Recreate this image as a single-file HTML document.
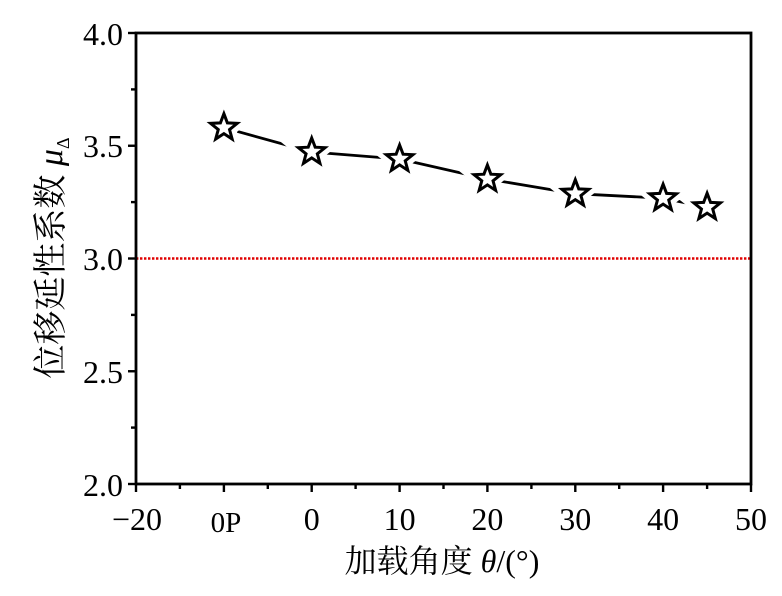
<!DOCTYPE html>
<html><head><meta charset="utf-8"><style>
html,body{margin:0;padding:0;background:#fff;}
svg text{font-family:"Liberation Serif","Noto Serif CJK SC",serif;fill:#000;}
</style></head><body>
<svg width="782" height="591" viewBox="0 0 782 591" xmlns="http://www.w3.org/2000/svg">
<defs>
<polygon id="st" points="0,-14 3.48,-4.79 13.31,-4.33 5.63,1.83 8.23,11.33 0,5.92 -8.23,11.33 -5.63,1.83 -13.31,-4.33 -3.48,-4.79"/>
</defs>
<line x1="136" y1="258.5" x2="751" y2="258.5" stroke="#e00000" stroke-width="2.4" stroke-dasharray="2.4,1.6"/>
<rect x="136" y="33" width="615" height="451" fill="none" stroke="#000" stroke-width="2.8"/>
<g stroke="#000" stroke-width="2.4">
<line x1="128" y1="33" x2="136" y2="33"/><line x1="128" y1="145.75" x2="136" y2="145.75"/><line x1="128" y1="258.5" x2="136" y2="258.5"/><line x1="128" y1="371.25" x2="136" y2="371.25"/><line x1="128" y1="484" x2="136" y2="484"/>
<line x1="131" y1="89.4" x2="136" y2="89.4"/><line x1="131" y1="202.1" x2="136" y2="202.1"/><line x1="131" y1="314.9" x2="136" y2="314.9"/><line x1="131" y1="427.6" x2="136" y2="427.6"/>
<line x1="136" y1="484" x2="136" y2="492"/><line x1="223.9" y1="484" x2="223.9" y2="492"/><line x1="311.7" y1="484" x2="311.7" y2="492"/><line x1="399.6" y1="484" x2="399.6" y2="492"/><line x1="487.4" y1="484" x2="487.4" y2="492"/><line x1="575.3" y1="484" x2="575.3" y2="492"/><line x1="663.1" y1="484" x2="663.1" y2="492"/><line x1="751" y1="484" x2="751" y2="492"/>
<line x1="179.9" y1="484" x2="179.9" y2="489"/><line x1="267.8" y1="484" x2="267.8" y2="489"/><line x1="355.6" y1="484" x2="355.6" y2="489"/><line x1="443.5" y1="484" x2="443.5" y2="489"/><line x1="531.4" y1="484" x2="531.4" y2="489"/><line x1="619.2" y1="484" x2="619.2" y2="489"/><line x1="707.1" y1="484" x2="707.1" y2="489"/>
</g>
<g font-size="32" text-anchor="end">
<text x="123" y="45">4.0</text><text x="123" y="157">3.5</text><text x="123" y="270">3.0</text><text x="123" y="383">2.5</text><text x="123" y="496">2.0</text>
</g>
<g font-size="32" text-anchor="middle">
<text x="137" y="530">−20</text><text x="226" y="532" font-size="29">0P</text><text x="311.7" y="530">0</text><text x="399.6" y="530">10</text><text x="487.4" y="530">20</text><text x="575.3" y="530">30</text><text x="663.1" y="530">40</text><text x="751" y="530">50</text>
</g>
<text x="442" y="572" font-size="32" text-anchor="middle">加载角度 <tspan font-style="italic">θ</tspan>/(°)</text>
<text transform="translate(62,258) rotate(-90)" font-size="34" text-anchor="middle">位移延性系数 <tspan font-style="italic">μ</tspan><tspan font-size="18" dy="7">Δ</tspan></text>
<polyline points="223.9,127.7 311.7,152 399.6,159 487.4,179 575.3,193.7 663.1,198.2 707.1,207.2" fill="none" stroke="#000" stroke-width="2.8"/>
<g fill="#fff" stroke="#fff" stroke-width="13">
<use href="#st" x="223.9" y="127.7"/><use href="#st" x="311.7" y="152"/><use href="#st" x="399.6" y="159"/><use href="#st" x="487.4" y="179"/><use href="#st" x="575.3" y="193.7"/><use href="#st" x="663.1" y="198.2"/><use href="#st" x="707.1" y="207.2"/>
</g>
<g fill="#fff" stroke="#000" stroke-width="3" stroke-linejoin="miter">
<use href="#st" x="223.9" y="127.7"/><use href="#st" x="311.7" y="152"/><use href="#st" x="399.6" y="159"/><use href="#st" x="487.4" y="179"/><use href="#st" x="575.3" y="193.7"/><use href="#st" x="663.1" y="198.2"/><use href="#st" x="707.1" y="207.2"/>
</g>
</svg>
</body></html>
